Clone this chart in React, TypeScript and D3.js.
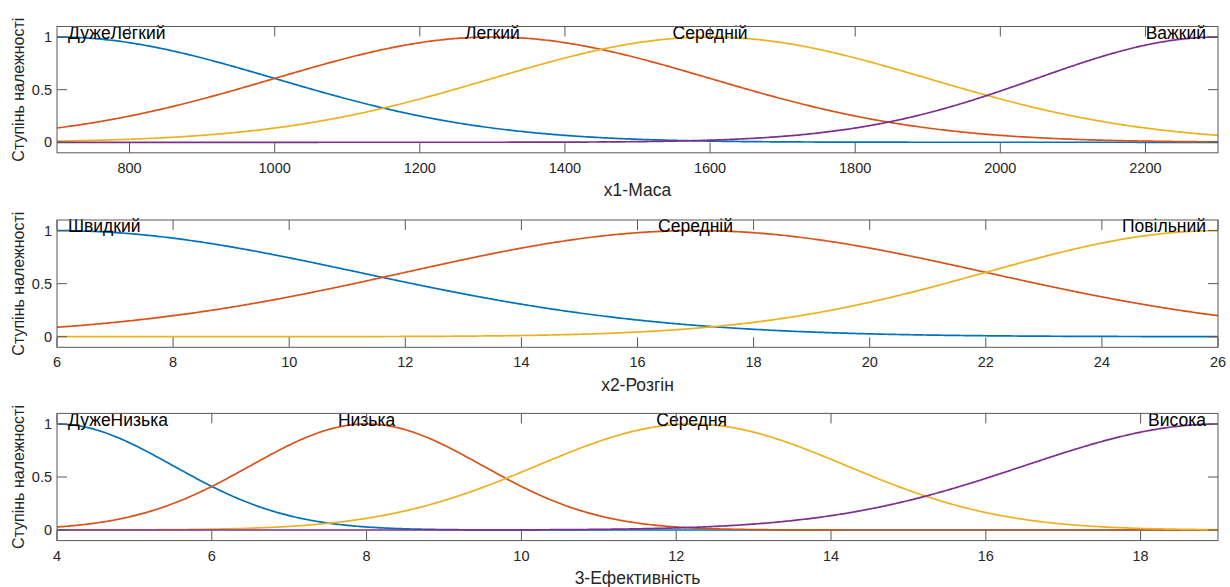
import React from 'react';
import * as d3 from 'd3';

// MATLAB default line colours, in plotting order
const COLORS = ['#0072BD', '#D95319', '#EDB120', '#7E2F8E'];

// x1 – mass: gaussian membership terms (centre, sigma)
const massDomain = [700, 2300];
const massTicks = [800, 1000, 1200, 1400, 1600, 1800, 2000, 2200];
const massTerms = ['ДужеЛегкий', 'Легкий', 'Середній', 'Важкий'];
const massCenters = [700, 1300, 1600, 2300];
const massSigmas = [300, 300, 300, 250];

// x2 – acceleration time
const accelDomain = [6, 26];
const accelTicks = [6, 8, 10, 12, 14, 16, 18, 20, 22, 24, 26];
const accelTerms = ['Швидкий', 'Середній', 'Повільний'];
const accelCenters = [6, 17, 26];
const accelSigmas = [5.2, 5, 4];

// output – efficiency
const effDomain = [4, 19];
const effTicks = [4, 6, 8, 10, 12, 14, 16, 18];
const effTerms = ['ДужеНизька', 'Низька', 'Середня', 'Висока'];
const effCenters = [4, 8, 12.2, 19];
const effSigmas = [1.5, 1.5, 2, 2.5];

const yTicks = [0, 0.5, 1];
const yTitle = 'Ступінь належності';

const W = 1230;
const H = 587;
const LEFT = 57;
const RIGHT = 1218;
const FONT = '"Liberation Sans", Arial, Helvetica, sans-serif';
const AXIS = '#595959';
const TEXT = '#262626';

const gaussmf = (x: number, c: number, s: number) =>
  Math.exp(-((x - c) * (x - c)) / (2 * s * s));

type PanelProps = {
  id: string;
  top: number;
  height: number;
  domain: number[];
  ticks: number[];
  terms: string[];
  centers: number[];
  sigmas: number[];
  title: string;
};

function Panel({ id, top, height, domain, ticks, terms, centers, sigmas, title }: PanelProps) {
  const x = d3.scaleLinear().domain(domain).range([LEFT, RIGHT]);
  const y = d3.scaleLinear().domain([-0.1, 1.1]).range([top + height, top]);
  const bottom = top + height;
  const samples = d3.range(0, 601).map((i) => domain[0] + ((domain[1] - domain[0]) * i) / 600);
  const n = terms.length;
  const tickLen = 10;

  return (
    <g>
      <defs>
        <clipPath id={id}>
          <rect x={LEFT} y={top} width={RIGHT - LEFT} height={height} />
        </clipPath>
      </defs>
      <rect x={LEFT} y={top} width={RIGHT - LEFT} height={height} fill="#fff" />
      {/* membership curves */}
      <g clipPath={`url(#${id})`}>
        {centers.map((c, i) => {
          const line = d3
            .line<number>()
            .x((v) => x(v))
            .y((v) => y(gaussmf(v, c, sigmas[i])));
          return (
            <path
              key={i}
              d={line(samples) || ''}
              fill="none"
              stroke={COLORS[i]}
              strokeWidth={1.7}
              strokeLinejoin="round"
            />
          );
        })}
      </g>
      {/* term labels */}
      {terms.map((t, i) => {
        let anchor: 'start' | 'middle' | 'end' = 'middle';
        let tx = x(centers[i]);
        if (i === 0) {
          anchor = 'start';
          tx = LEFT + 11;
        } else if (i === n - 1) {
          anchor = 'end';
          tx = RIGHT - 12;
        }
        return (
          <text
            key={t + i}
            x={tx}
            y={y(1) + 1.5}
            textAnchor={anchor}
            fontFamily={FONT}
            fontSize={17.5}
            fill="#000"
          >
            {t}
          </text>
        );
      })}
      {/* box */}
      <rect
        x={LEFT}
        y={top}
        width={RIGHT - LEFT}
        height={height}
        fill="none"
        stroke={AXIS}
        strokeWidth={1}
      />
      {/* x ticks */}
      {ticks.map((t) => (
        <g key={'x' + t}>
          <line x1={x(t)} x2={x(t)} y1={bottom} y2={bottom - tickLen} stroke={AXIS} />
          <line x1={x(t)} x2={x(t)} y1={top} y2={top + tickLen} stroke={AXIS} />
          <text
            x={x(t)}
            y={bottom + 20}
            textAnchor="middle"
            fontFamily={FONT}
            fontSize={14.5}
            fill={TEXT}
          >
            {t}
          </text>
        </g>
      ))}
      {/* y ticks */}
      {yTicks.map((t) => (
        <g key={'y' + t}>
          <line x1={LEFT} x2={LEFT + tickLen} y1={y(t)} y2={y(t)} stroke={AXIS} />
          <line x1={RIGHT} x2={RIGHT - tickLen} y1={y(t)} y2={y(t)} stroke={AXIS} />
          <text
            x={52}
            y={y(t)}
            dy="0.35em"
            textAnchor="end"
            fontFamily={FONT}
            fontSize={14.5}
            fill={TEXT}
          >
            {t}
          </text>
        </g>
      ))}
      {/* axis titles */}
      <text
        x={(LEFT + RIGHT) / 2}
        y={bottom + 43.5}
        textAnchor="middle"
        fontFamily={FONT}
        fontSize={17.5}
        fill={TEXT}
      >
        {title}
      </text>
      <text
        transform={`translate(24,${top + height / 2}) rotate(-90)`}
        textAnchor="middle"
        fontFamily={FONT}
        fontSize={16}
        fill={TEXT}
      >
        {yTitle}
      </text>
    </g>
  );
}

export default function App() {
  return (
    <svg
      width={W}
      height={H}
      viewBox={`0 0 ${W} ${H}`}
      style={{ position: 'absolute', left: 0, top: 0, background: '#fff' }}
    >
      <rect width={W} height={H} fill="#fff" />
      <Panel
        id="clip-mass"
        top={26.5}
        height={126.3}
        domain={massDomain}
        ticks={massTicks}
        terms={massTerms}
        centers={massCenters}
        sigmas={massSigmas}
        title="x1-Маса"
      />
      <Panel
        id="clip-accel"
        top={220}
        height={127.3}
        domain={accelDomain}
        ticks={accelTicks}
        terms={accelTerms}
        centers={accelCenters}
        sigmas={accelSigmas}
        title="x2-Розгін"
      />
      <Panel
        id="clip-eff"
        top={413.4}
        height={127.2}
        domain={effDomain}
        ticks={effTicks}
        terms={effTerms}
        centers={effCenters}
        sigmas={effSigmas}
        title="3-Ефективність"
      />
    </svg>
  );
}
